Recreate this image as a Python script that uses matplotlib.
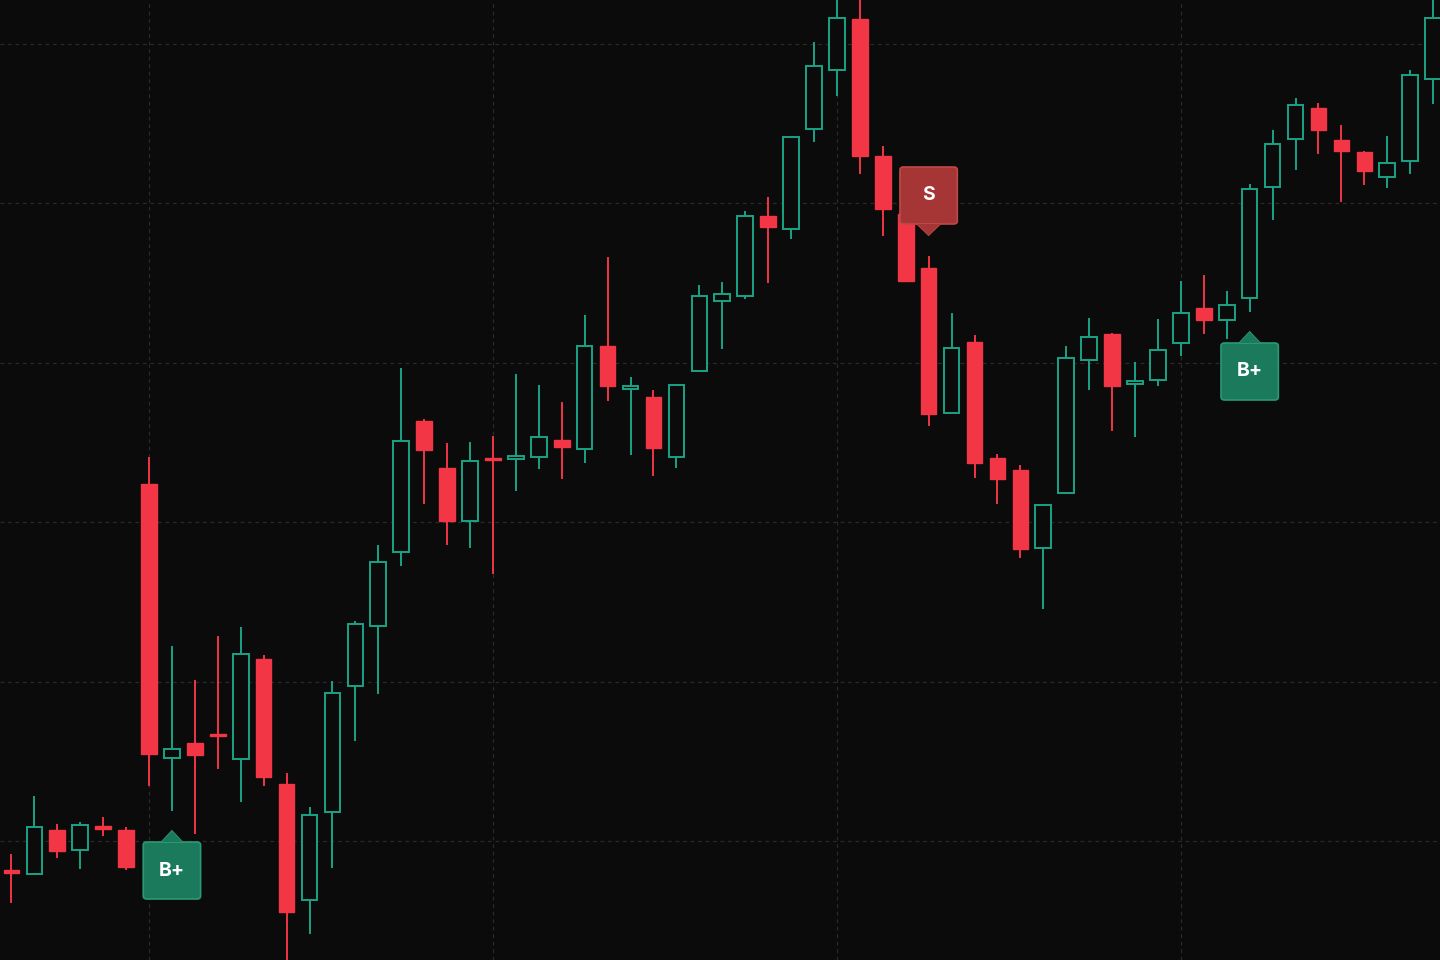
import matplotlib.pyplot as plt
from matplotlib.patches import Rectangle, FancyBboxPatch, Polygon

# OHLC (price units, higher = up)
opens = [90, 86, 130, 110, 134, 130, 476, 202, 217, 226, 201, 301, 176, 60, 148, 274, 334, 408, 539, 492, 439, 502, 501, 503, 520, 511, 614, 571, 563, 503,
         589, 659, 664, 744, 731, 831, 890, 941, 804, 746, 692, 547, 618, 502, 490, 412, 467, 600, 626, 576, 580, 617, 652, 640, 662, 773, 821, 852, 820, 808, 783, 799, 881]
highs = [105, 163, 135, 137, 142, 132, 502, 313, 279, 323, 332, 304, 186, 152, 278, 338, 414, 591, 540, 516, 517, 523, 585, 574, 557, 644, 702, 582, 569, 575,
         674, 677, 748, 762, 823, 917, 960, 960, 813, 754, 703, 646, 624, 505, 494, 455, 613, 641, 626, 597, 640, 678, 684, 668, 775, 829, 861, 856, 834, 808, 823, 889, 960]
lows = [58, 86, 103, 92, 125, 91, 175, 150, 127, 192, 159, 175, 0, 27, 93, 220, 267, 395, 457, 416, 413, 387, 470, 492, 482, 498, 560, 506, 485, 493,
        589, 612, 662, 678, 722, 819, 865, 787, 725, 679, 535, 547, 483, 457, 403, 352, 467, 571, 530, 524, 575, 605, 627, 622, 649, 741, 791, 807, 759, 776, 773, 787, 857]
closes = [87, 133, 109, 135, 131, 93, 206, 211, 205, 224, 306, 183, 48, 145, 267, 336, 398, 519, 510, 439, 499, 500, 504, 523, 513, 614, 574, 574, 512, 575,
          664, 666, 744, 733, 823, 894, 942, 804, 751, 679, 546, 612, 497, 481, 411, 455, 602, 623, 574, 579, 610, 647, 640, 655, 771, 816, 855, 830, 809, 789, 797, 885, 942]

# trade signals: candle index, label, kind
sig_idx = [7, 40, 54]
sig_text = ['B+', 'S', 'B+']
sig_kind = ['buy', 'sell', 'buy']

bg = '#0b0b0b'
up_col = '#1aa386'
dn_col = '#f23645'

fig = plt.figure(figsize=(14.4, 9.6), dpi=100, facecolor=bg)
ax = fig.add_axes([0, 0, 1, 1])
ax.set_facecolor(bg)
ax.set_xlim(-0.497, 62.3)
ax.set_ylim(0, 960)

# grid
for gx in [6, 21, 36, 51]:
    ax.axvline(gx, color='#2a2a2a', ls=(0, (3, 3)), lw=0.9, zorder=0)
for gy in [916, 757, 597, 438, 278, 119]:
    ax.axhline(gy, color='#2a2a2a', ls=(0, (3, 3)), lw=0.9, zorder=0)

w = 0.68
for i, (o, h, l, c) in enumerate(zip(opens, highs, lows, closes)):
    if c >= o:
        ax.plot([i, i], [l, o], color=up_col, lw=1.4, zorder=2)
        ax.plot([i, i], [c, h], color=up_col, lw=1.4, zorder=2)
        ax.add_patch(Rectangle((i - w / 2, o), w, max(c - o, 1.5), facecolor=bg,
                               edgecolor=up_col, lw=1.4, zorder=3))
    else:
        ax.plot([i, i], [l, h], color=dn_col, lw=1.4, zorder=2)
        ax.add_patch(Rectangle((i - w / 2, c), w, max(o - c, 2.5), facecolor=dn_col,
                               edgecolor=dn_col, lw=1, zorder=3))

bw, bh = 2.5, 57
for i, t, k in zip(sig_idx, sig_text, sig_kind):
    if k == 'buy':
        face, edge = '#1b7a5c', '#2a9a74'
        tip = lows[i] - 21
        top = tip - 11
        y0 = top - bh
        tri = [(i - 0.45, top), (i + 0.45, top), (i, tip)]
    else:
        face, edge = '#a63636', '#c14848'
        tip = highs[i] + 22
        y0 = tip + 11
        tri = [(i - 0.5, y0), (i + 0.5, y0), (i, tip)]
    ax.add_patch(FancyBboxPatch((i - bw / 2, y0), bw, bh, boxstyle='round,pad=0,rounding_size=0.15',
                                mutation_aspect=20, facecolor=face, edgecolor=edge, lw=1.2, zorder=5))
    ax.add_patch(Polygon(tri, closed=True, facecolor=face, edgecolor=edge, lw=1.2, zorder=5))
    ax.add_patch(Polygon(tri, closed=True, facecolor=face, edgecolor='none', zorder=6))
    ax.text(i, y0 + bh / 2, t, color='white', fontsize=14, fontweight='bold',
            ha='center', va='center', family='Inter', zorder=7)

ax.axis('off')
fig.savefig('out.png', dpi=100, facecolor=bg)
